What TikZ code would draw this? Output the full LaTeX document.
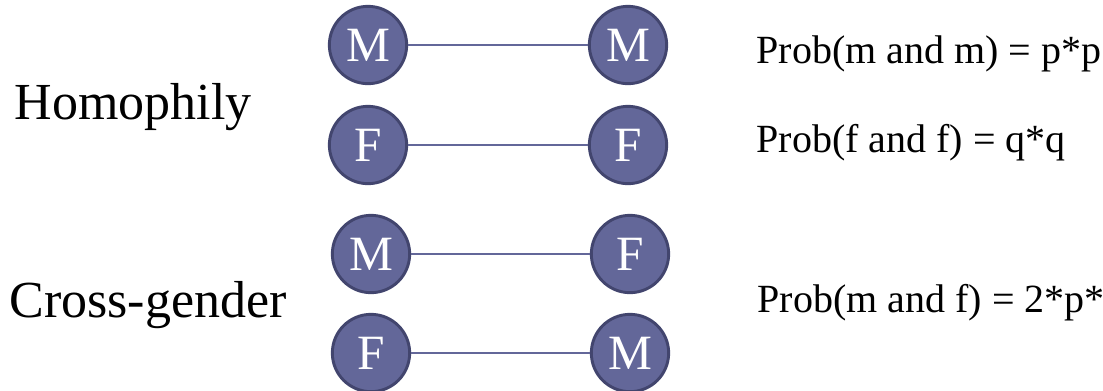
\documentclass[tikz,border=0pt]{standalone}
\usepackage{fontspec}
\setmainfont{Liberation Serif}
\definecolor{nodefill}{RGB}{99,103,153}
\definecolor{nodeedge}{RGB}{66,69,110}
\begin{document}
\begin{tikzpicture}[x=0.75pt, y=-0.75pt,
        person/.style={circle, fill=nodefill, draw=nodeedge, line width=2.2pt,
            minimum size=58pt, inner sep=0pt, text=white,
            font=\fontsize{37}{42}\selectfont},
        tie/.style={draw=nodefill, line width=1.5pt},
        group/.style={anchor=base, font=\fontsize{39}{46}\selectfont},
        prob/.style={anchor=base west, font=\fontsize{30}{36}\selectfont}]
        \useasboundingbox (0,0) rectangle (1103,390);
        \clip (0,0) rectangle (1103,390);

        % Group labels
        \node[group] (homo) at (133,119) {Homophily};
        \node[group] (cross) at (148,317) {Cross-gender};

        % Same-gender pairs
        \node[person] (mA) at (368,45) {M};
        \node[person] (mB) at (628,45) {M};
        \node[person] (fA) at (368,145) {F};
        \node[person] (fB) at (628,145) {F};

        % Mixed pairs
        \node[person] (mC) at (371,254) {M};
        \node[person] (fC) at (630,254) {F};
        \node[person] (fD) at (371,353) {F};
        \node[person] (mD) at (630,353) {M};

        % Ties between partners
        \draw[tie] (mA) -- (mB);
        \draw[tie] (fA) -- (fB);
        \draw[tie] (mC) -- (fC);
        \draw[tie] (fD) -- (mD);

        % Probabilities
        \node[prob] (pmm) at (752,63) {Prob(m and m) = p*p};
        \node[prob] (pff) at (752,152) {Prob(f and f) = q*q};
        \node[prob] (pmf) at (753,312) {Prob(m and f) = 2*p*q};
    \end{tikzpicture}
\end{document}
